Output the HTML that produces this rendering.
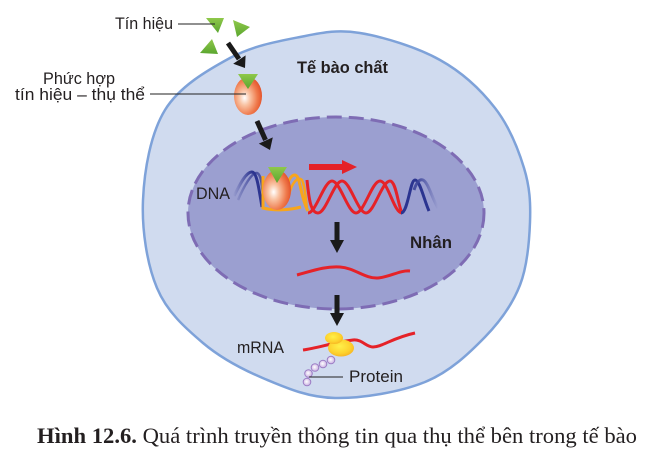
<!DOCTYPE html>
<html><head><meta charset="utf-8">
<style>
html,body{margin:0;padding:0;background:#fff;}
svg{display:block;}
</style></head>
<body>
<svg width="650" height="455" viewBox="0 0 650 455" xmlns="http://www.w3.org/2000/svg">
<defs>
<radialGradient id="egg" cx="0.38" cy="0.55" r="0.65">
<stop offset="0" stop-color="#ffffff"/>
<stop offset="0.3" stop-color="#f9c3a3"/>
<stop offset="0.7" stop-color="#ef7a4c"/>
<stop offset="1" stop-color="#e24e26"/>
</radialGradient>
<radialGradient id="ribo" cx="0.45" cy="0.4" r="0.7">
<stop offset="0" stop-color="#fff04a"/>
<stop offset="0.6" stop-color="#fdd22e"/>
<stop offset="1" stop-color="#f4a91e"/>
</radialGradient>
<radialGradient id="bead" cx="0.45" cy="0.45" r="0.6">
<stop offset="0" stop-color="#ffffff"/>
<stop offset="1" stop-color="#c4a7de"/>
</radialGradient>
<linearGradient id="blueL" gradientUnits="userSpaceOnUse" x1="233" y1="0" x2="252" y2="0">
<stop offset="0" stop-color="#2d3590" stop-opacity="0"/>
<stop offset="1" stop-color="#2d3590" stop-opacity="1"/>
</linearGradient>
<linearGradient id="blueR" gradientUnits="userSpaceOnUse" x1="418" y1="0" x2="438" y2="0">
<stop offset="0" stop-color="#3d459a" stop-opacity="0.9"/>
<stop offset="1" stop-color="#3d459a" stop-opacity="0"/>
</linearGradient>
<linearGradient id="grn" x1="0" y1="0" x2="0" y2="1">
<stop offset="0" stop-color="#8fc84a"/>
<stop offset="1" stop-color="#5aa62f"/>
</linearGradient>
</defs>

<!-- cell -->
<path d="M360,33 C383.3,36.8 417.5,47.5 440,60 C462.5,72.5 481,90 495,108 C509,126 518.2,149 524,168 C529.8,187 530.7,202.5 530,222 C529.3,241.5 527.5,265.8 520,285 C512.5,304.2 500.8,320.8 485,337 C469.2,353.2 450,371.8 425,382 C400,392.2 361.7,398.5 335,398 C308.3,397.5 287,388.2 265,379 C243,369.8 221,358.2 203,343 C185,327.8 167,311.8 157,288 C147,264.2 141.7,229.7 143,200 C144.3,170.3 150.5,133.7 165,110 C179.5,86.3 207.5,70.2 230,58 C252.5,45.8 278.3,41.2 300,37 C321.7,32.8 336.7,29.2 360,33 Z" fill="#d0dbef" stroke="#7ea2d9" stroke-width="2.5"/>

<!-- nucleus -->
<ellipse cx="336" cy="213" rx="148" ry="96" fill="#9b9fd0" stroke="#7e6cb4" stroke-width="3" stroke-dasharray="15 7"/>

<!-- signal triangles -->
<polygon points="206,18 224,18 218,33" fill="url(#grn)"/>
<polygon points="233,20 250,27 237,37" fill="url(#grn)"/>
<polygon points="200,53 212,39 218,54" fill="url(#grn)"/>

<!-- label lines -->
<line x1="178" y1="24" x2="215" y2="24" stroke="#222" stroke-width="1"/>

<!-- arrow 1 -->
<line x1="228" y1="43" x2="239" y2="59" stroke="#1a1a1a" stroke-width="5"/>
<polygon points="245,68 233.2,63.8 245.6,55.4" fill="#1a1a1a"/>

<!-- receptor complex outside -->
<ellipse cx="248" cy="96" rx="14" ry="19" fill="url(#egg)"/>
<polygon points="238,74 258,74 248,89" fill="url(#grn)"/>
<line x1="150" y1="94" x2="246" y2="94" stroke="#222" stroke-width="1"/>

<!-- arrow 2 -->
<line x1="257" y1="121" x2="265.5" y2="140" stroke="#1a1a1a" stroke-width="5"/>
<polygon points="270,150 258.8,143.6 272.8,137.4" fill="#1a1a1a"/>

<!-- red arrow -->
<rect x="309" y="164" width="34" height="6" fill="#e52228"/>
<polygon points="342,160 357,167 342,174" fill="#e52228"/>

<!-- DNA: blue left -->
<path d="M234,196 C240,184 246,172 252,172 C257,172 259,190 262,207" fill="none" stroke="url(#blueL)" stroke-width="3"/>
<path d="M238,200 C244,186 252,172 257,173 C261,174 262,185 263,195" fill="none" stroke="url(#blueL)" stroke-width="2.5" opacity="0.7"/>

<!-- orange strands -->
<path d="M263,176 L263,208 C275,211 290,210 301,207" fill="none" stroke="#f8a51c" stroke-width="3"/>
<path d="M288,183 C291,174 296,173 298,178 C301,186 302,200 308,211" fill="none" stroke="#f8a51c" stroke-width="3"/>
<path d="M289,195 C292,182 298,176 302,180 C305,186 306,200 307,210" fill="none" stroke="#f8a51c" stroke-width="2.5"/>

<!-- receptor complex inside -->
<ellipse cx="277" cy="190" rx="14" ry="20" fill="url(#egg)"/>
<polygon points="268,167 287,167 277,183" fill="url(#grn)"/>

<!-- red helix -->
<path d="M308,213 C316,213 324,181 332,181 C340,181 348,213 356,213 C364,213 372,181 380,181 C388,181 394,213 402,213" fill="none" stroke="#e52228" stroke-width="3"/>
<path d="M307,180 C309,200 311,213 318,213 C326,213 334,181 342,181 C350,181 358,213 366,213 C374,213 382,181 390,181 C396,181 398,205 402,213" fill="none" stroke="#e52228" stroke-width="3"/>

<!-- blue right -->
<path d="M401,213 C408,213 410,180 415,180 C420,180 424,200 429,211" fill="none" stroke="#2b3490" stroke-width="3"/>
<path d="M414,190 C417,181 420,179 423,180 C428,182 432,198 438,208" fill="none" stroke="url(#blueR)" stroke-width="3"/>

<!-- arrow 3 -->
<line x1="337" y1="222" x2="337" y2="242" stroke="#1a1a1a" stroke-width="5"/>
<polygon points="330,240 344,240 337,253" fill="#1a1a1a"/>

<!-- mRNA in nucleus -->
<path d="M297,275 C312,271 325,266 340,267 C355,268 365,279 378,278 C390,277 400,270 410,271" fill="none" stroke="#e52228" stroke-width="3"/>

<!-- arrow 4 -->
<line x1="337" y1="295" x2="337" y2="315" stroke="#1a1a1a" stroke-width="5"/>
<polygon points="330,313 344,313 337,326" fill="#1a1a1a"/>

<!-- mRNA outside -->
<path d="M303,350 C318,348 335,342 353,340 C362,339 366,347 373,347 C382,347 392,338 415,333" fill="none" stroke="#e52228" stroke-width="3"/>

<!-- protein beads -->
<circle cx="307" cy="382" r="3.8" fill="url(#bead)" stroke="#9b7cc4" stroke-width="1"/>
<circle cx="308.5" cy="373.5" r="3.8" fill="url(#bead)" stroke="#9b7cc4" stroke-width="1"/>
<circle cx="315" cy="367.5" r="3.8" fill="url(#bead)" stroke="#9b7cc4" stroke-width="1"/>
<circle cx="323" cy="364" r="3.8" fill="url(#bead)" stroke="#9b7cc4" stroke-width="1"/>
<circle cx="331" cy="360" r="3.8" fill="url(#bead)" stroke="#9b7cc4" stroke-width="1"/>
<line x1="309" y1="377" x2="343" y2="377" stroke="#222" stroke-width="1"/>

<!-- ribosome -->
<ellipse cx="341" cy="348" rx="13" ry="8.5" fill="url(#ribo)"/>
<ellipse cx="334" cy="338" rx="9" ry="6" fill="url(#ribo)"/>

<!-- labels -->
<g font-family="Liberation Sans, Arial, sans-serif" fill="#231f20">
<text x="115" y="29" font-size="17" textLength="58" lengthAdjust="spacingAndGlyphs">Tín hiệu</text>
<text x="43" y="84" font-size="17" textLength="72" lengthAdjust="spacingAndGlyphs">Phức hợp</text>
<text x="15" y="100" font-size="17" textLength="130" lengthAdjust="spacingAndGlyphs">tín hiệu – thụ thể</text>
<text x="297" y="73" font-size="17" font-weight="bold" textLength="91" lengthAdjust="spacingAndGlyphs">Tế bào chất</text>
<text x="410" y="248" font-size="17" font-weight="bold" textLength="42" lengthAdjust="spacingAndGlyphs">Nhân</text>
<text x="196" y="199" font-size="17" textLength="34" lengthAdjust="spacingAndGlyphs">DNA</text>
<text x="237" y="353" font-size="17" textLength="47" lengthAdjust="spacingAndGlyphs">mRNA</text>
<text x="349" y="382" font-size="17" textLength="54" lengthAdjust="spacingAndGlyphs">Protein</text>
</g>

<!-- caption -->
<text x="37" y="443" font-family="Liberation Serif, Times New Roman, serif" font-size="22" fill="#231f20" textLength="600" lengthAdjust="spacingAndGlyphs"><tspan font-weight="bold">Hình 12.6.</tspan> Quá trình truyền thông tin qua thụ thể bên trong tế bào</text>
</svg>
</body></html>
